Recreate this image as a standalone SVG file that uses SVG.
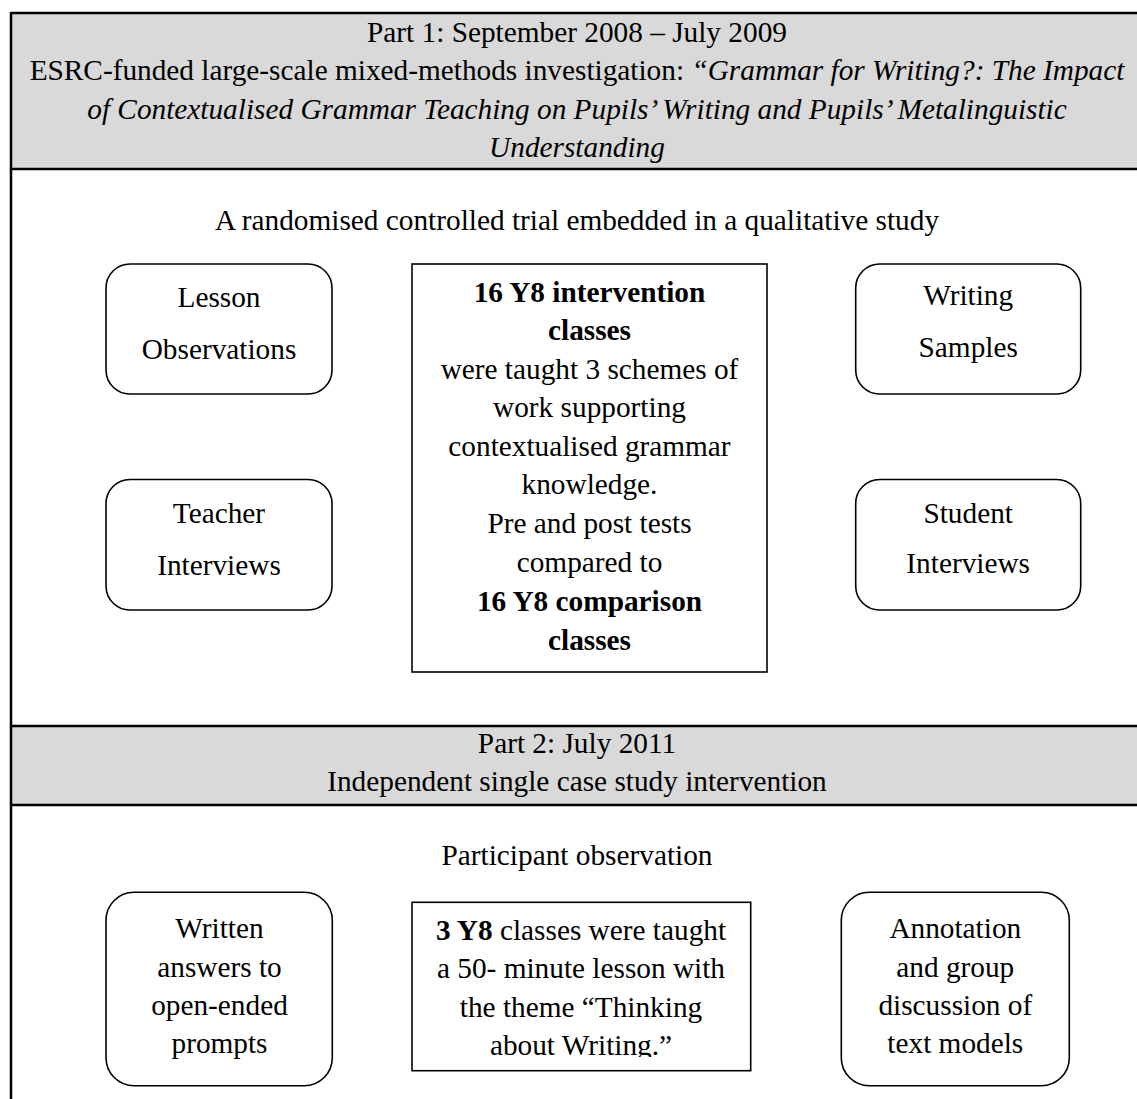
<svg xmlns="http://www.w3.org/2000/svg" width="1137" height="1099" viewBox="0 0 1137 1099">
<style>
text{font-family:"Liberation Serif","Times New Roman",serif;font-size:29.3px;fill:#000;text-anchor:middle}
.b{font-weight:bold}
.i{font-style:italic}
.box{fill:#fff;stroke:#000;stroke-width:1.6}
.rule{stroke:#000;stroke-width:2.5;fill:none}
.band{fill:#d9d9d9}
</style>
<defs>
<clipPath id="clipP2"><rect x="412" y="902" width="339" height="155"/></clipPath>
</defs>
<rect width="1137" height="1099" fill="#fff"/>
<g id="table">
<rect class="band" x="11" y="13" width="1126" height="156"/>
<rect class="band" x="11" y="726" width="1126" height="79"/>
<line class="rule" x1="11" y1="13" x2="1137" y2="13"/>
<line class="rule" x1="11" y1="169" x2="1137" y2="169"/>
<line class="rule" x1="11" y1="726" x2="1137" y2="726"/>
<line class="rule" x1="11" y1="805" x2="1137" y2="805"/>
<line class="rule" x1="11" y1="12" x2="11" y2="1099"/>
</g>
<g id="header1">
<text x="577" y="41.7">Part 1: September 2008 – July 2009</text>
<text x="577" y="80">ESRC-funded large-scale mixed-methods investigation: <tspan class="i">“Grammar for Writing?: The Impact</tspan></text>
<text x="577" y="118.5" class="i">of Contextualised Grammar Teaching on Pupils’ Writing and Pupils’ Metalinguistic</text>
<text x="577" y="157" class="i">Understanding</text>
</g>
<g id="subtitle1">
<text x="577" y="230">A randomised controlled trial embedded in a qualitative study</text>
</g>
<g id="lesson-observations">
<rect class="box" x="106" y="264" width="226" height="130" rx="24"/>
<text x="219" y="307">Lesson</text>
<text x="219" y="358.5">Observations</text>
</g>
<g id="teacher-interviews">
<rect class="box" x="106" y="479.5" width="226" height="130.5" rx="24"/>
<text x="219" y="523.3">Teacher</text>
<text x="219" y="575">Interviews</text>
</g>
<g id="intervention">
<rect class="box" x="412" y="264" width="355" height="408"/>
<text x="589.5" y="301.5" class="b">16 Y8 intervention</text>
<text x="589.5" y="340" class="b">classes</text>
<text x="589.5" y="378.5">were taught 3 schemes of</text>
<text x="589.5" y="417">work supporting</text>
<text x="589.5" y="455.5">contextualised grammar</text>
<text x="589.5" y="494">knowledge.</text>
<text x="589.5" y="533">Pre and post tests</text>
<text x="589.5" y="572">compared to</text>
<text x="589.5" y="611" class="b">16 Y8 comparison</text>
<text x="589.5" y="650" class="b">classes</text>
</g>
<g id="writing-samples">
<rect class="box" x="855.7" y="264" width="225" height="130" rx="24"/>
<text x="968.2" y="305">Writing</text>
<text x="968.2" y="357.3">Samples</text>
</g>
<g id="student-interviews">
<rect class="box" x="855.7" y="479.5" width="225" height="130.5" rx="24"/>
<text x="968.2" y="522.7">Student</text>
<text x="968.2" y="573.3">Interviews</text>
</g>
<g id="header2">
<text x="577" y="753">Part 2: July 2011</text>
<text x="577" y="791">Independent single case study intervention</text>
</g>
<g id="subtitle2">
<text x="577" y="865">Participant observation</text>
</g>
<g id="written-answers">
<rect class="box" x="106" y="892.3" width="226.3" height="193.4" rx="28"/>
<text x="219.5" y="938">Written</text>
<text x="219.5" y="976.7">answers to</text>
<text x="219.5" y="1015">open-ended</text>
<text x="219.5" y="1053">prompts</text>
</g>
<g id="lesson-theme">
<rect class="box" x="412" y="902.3" width="338.7" height="168.4"/>
<g clip-path="url(#clipP2)">
<text x="581" y="940"><tspan class="b">3 Y8</tspan> classes were taught</text>
<text x="581" y="978">a 50- minute lesson with</text>
<text x="581" y="1016.7">the theme “Thinking</text>
<text x="581" y="1055">about Writing.”</text>
</g>
</g>
<g id="annotation">
<rect class="box" x="841.3" y="892.3" width="228" height="193.4" rx="28"/>
<text x="955.3" y="938">Annotation</text>
<text x="955.3" y="976.7">and group</text>
<text x="955.3" y="1015">discussion of</text>
<text x="955.3" y="1053">text models</text>
</g>
</svg>
